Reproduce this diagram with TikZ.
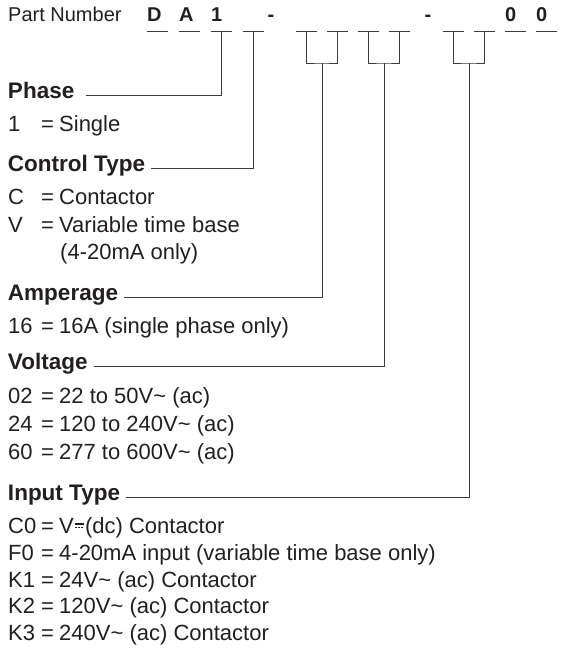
\documentclass[tikz,border=0pt]{standalone}
\usepackage{fontspec}
\setmainfont{Liberation Sans}
\definecolor{ink}{RGB}{35,31,32}
\definecolor{wire}{RGB}{60,60,60}
\tikzset{
  rule/.style={draw=wire, line width=1pt},
  head/.style={anchor=west, inner sep=0pt, outer xsep=6pt, text height=.72em, text depth=0pt,
    font=\fontsize{22.5}{26}\selectfont\bfseries},
  txt/.style={anchor=base west, inner sep=0pt, font=\fontsize{22}{26}\selectfont},
  digit/.style={anchor=base west, inner sep=0pt, font=\fontsize{20}{24}\selectfont\bfseries},
}
\newcommand\acv{V\textasciitilde{} (ac)}
\newcommand\dcsym{\tikz[baseline=0pt]{\draw[draw=ink, line width=1.2pt] (0pt,9pt) -- (9pt,9pt);
  \draw[draw=ink, line width=1.2pt, dash pattern=on 1.8pt off 1.2pt] (0pt,5.8pt) -- (9pt,5.8pt);}}
\begin{document}
\begin{tikzpicture}[x=1pt,y=-1pt,text=ink]
  \useasboundingbox (0,0) rectangle (560,651);
  \node[txt, font=\fontsize{20}{24}\selectfont] (pn) at (8,21) {Part Number};
  \foreach \x [count=\i] in {147,179,211,243,296,327,358,389,443,474,505,536} {
    \draw[rule] (\x,31) -- ++(21,0);
    \coordinate (s\i) at (\x+10.5,31);
  }
  \foreach \x/\c [count=\i] in {147/D,179/A,211/1,505/0,536/0}
    \node[digit] (c\i) at (\x,21) {\c};
  \node[digit, anchor=base] (h1) at (271,21) {-};
  \node[digit, anchor=base] (h2) at (428,21) {-};
  \coordinate (k1) at (322,63); \coordinate (k2) at (384,63); \coordinate (k3) at (469,63);
  \draw[rule] (s5) |- (k1) -| (s6);
  \draw[rule] (s7) |- (k2) -| (s8);
  \draw[rule] (s9) |- (k3) -| (s10);
  \node[head] (phase) at (2,95) {Phase};
  \node[head] (ctrl) at (2,168) {Control Type};
  \node[head] (amp) at (2,297) {Amperage};
  \node[head] (volt) at (2,366) {Voltage};
  \node[head] (input) at (2,497) {Input Type};
  \draw[rule] ([xshift=6pt]phase.east) -| (s3);
  \draw[rule] (ctrl.east) -| (s4);
  \draw[rule] (amp.east) -| (k1);
  \draw[rule] (volt.east) -| (k2);
  \draw[rule] (input.east) -| (k3);
  \foreach \c/\v/\y [count=\k] in {1/Single/131, C/Contactor/204, V/Variable time base/232,
      16/16A (single phase only)/333,
      02/22 to 50\acv/403, 24/120 to 240\acv/431, 60/277 to 600\acv/459,
      C0/{V\kern.5pt\dcsym\kern.5pt(dc) Contactor}/533,
      F0/4-20mA input (variable time base only)/560,
      K1/24\acv{} Contactor/587, K2/120\acv{} Contactor/613, K3/240\acv{} Contactor/640} {
    \node[txt] (code\k) at (8,\y) {\c};
    \node[txt] (eq\k) at (41,\y) {=};
    \node[txt] (val\k) at (59,\y) {\v};
  }
  \node[txt] (val3b) at (60,259) {(4-20mA only)};
\end{tikzpicture}
\end{document}
